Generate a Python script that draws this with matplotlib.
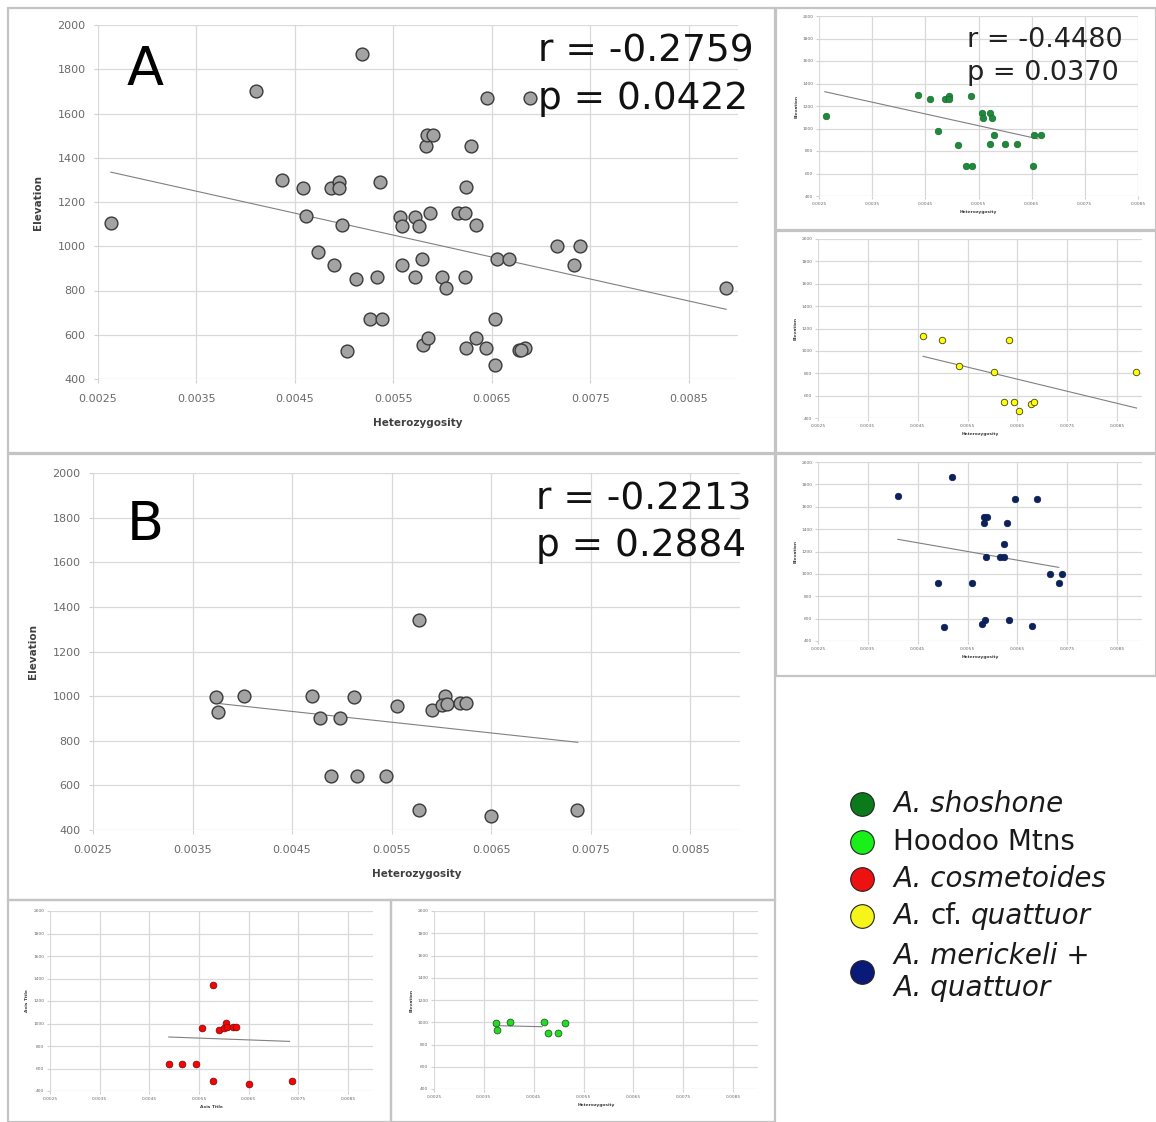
import matplotlib.pyplot as plt
import numpy as np
from matplotlib.patches import Rectangle
from matplotlib.offsetbox import TextArea, HPacker, AnnotationBbox

W, H = 1156, 1122

# heterozygosity / elevation per group
shoshone_x = [0.00263, 0.00437, 0.00458, 0.00487, 0.00495, 0.00495, 0.00536,
              0.00473, 0.00512, 0.00526, 0.00538, 0.00557, 0.00559, 0.00572,
              0.00576, 0.00579, 0.00572, 0.00599, 0.00623, 0.00655, 0.00667,
              0.00653]
shoshone_y = [1107, 1300, 1262, 1265, 1290, 1262, 1290,
              975, 854, 670, 670, 1134, 1092, 1134,
              1092, 941, 863, 863, 863, 941, 941,
              670]

cfquat_x = [0.00461, 0.00498, 0.00533, 0.00603, 0.00634, 0.00624, 0.00644,
            0.00653, 0.00678, 0.00684, 0.00888]
cfquat_y = [1137, 1095, 863, 810, 1096, 539, 539,
            464, 529, 539, 810]

merickeli_x = [0.00410, 0.00518, 0.00645, 0.00689, 0.00583, 0.00584, 0.00590,
               0.00629, 0.00624, 0.00587, 0.00616, 0.00623, 0.00716, 0.00740,
               0.00733, 0.00490, 0.00559, 0.00503, 0.00580, 0.00585, 0.00634,
               0.00680]
merickeli_y = [1700, 1868, 1670, 1670, 1455, 1505, 1505,
               1455, 1266, 1152, 1152, 1152, 1001, 1001,
               915, 915, 915, 528, 554, 584, 584,
               532]

cosmet_x = [0.00489, 0.00515, 0.00544, 0.00578, 0.00578, 0.00555, 0.00591,
            0.00604, 0.00601, 0.00606, 0.00619, 0.00625, 0.00650, 0.00736]
cosmet_y = [642, 642, 642, 1343, 488, 957, 938,
            1002, 960, 965, 968, 968, 463, 488]

hoodoo_x = [0.00374, 0.003755, 0.00402, 0.00470, 0.00478, 0.00498, 0.00512]
hoodoo_y = [996, 930, 1000, 1000, 901, 900, 996]

# trend lines as drawn in the source charts: (x start, x end), (y start, y end)
trend_A = ([0.00263, 0.00888], [1335, 715])
trend_B = ([0.00374, 0.00737], [968, 793])
trend_shoshone = ([0.00261, 0.00662], [1327, 908])
trend_cfquat = ([0.00461, 0.00889], [951, 489])
trend_merickeli = ([0.00410, 0.00733], [1309, 1058])
trend_cosmet = ([0.00489, 0.00732], [880, 841])
trend_hoodoo = ([0.00370, 0.00467], [970, 960])

stats_A = ("-0.2759", "0.0422")
stats_B = ("-0.2213", "0.2884")
stats_shoshone = ("-0.4480", "0.0370")

# legend entries: list of (text piece, italic?) per entry
legend_labels = [
    [("A. shoshone", True)],
    [("Hoodoo Mtns", False)],
    [("A. cosmetoides", True)],
    [("A.", True), ("cf.", False), ("quattuor", True)],
    [("A. merickeli +\nA. quattuor", True)],
]
legend_colors = ["#0b7a1b", "#19f019", "#ee1111", "#f5f51a", "#0a1a78"]

xticks = [0.0025, 0.0035, 0.0045, 0.0055, 0.0065, 0.0075, 0.0085]
yticks = [400, 600, 800, 1000, 1200, 1400, 1600, 1800, 2000]

fig = plt.figure(figsize=(W / 100, H / 100), dpi=100)


def px_axes(x0, y0, x1, y1):
    return fig.add_axes([x0 / W, 1 - y1 / H, (x1 - x0) / W, (y1 - y0) / H])


def frame(x0, y0, x1, y1):
    fig.add_artist(Rectangle((x0 / W, 1 - y1 / H), (x1 - x0) / W, (y1 - y0) / H,
                             transform=fig.transFigure, fill=False,
                             edgecolor="#c4c4c4", linewidth=1.6))


def panel(rect, xs, ys, trend, color, edge, s, xmax, tick_fs, lab_fs,
          xlabel="Heterozygosity", ylabel="Elevation", lw=0.8, big=False):
    ax = px_axes(*rect)
    ax.scatter(xs, ys, s=s, color=color, edgecolors=edge, linewidths=lw, zorder=3)
    ax.plot(trend[0], trend[1], color="#808080", linewidth=0.8, zorder=2)
    ax.set_xlim(0.0025, xmax)
    ax.set_ylim(400, 2000)
    ax.set_xticks(xticks)
    ax.set_xticklabels([f"{t:.4f}" for t in xticks])
    ax.set_yticks(yticks)
    ax.grid(True, color="#d9d9d9", linewidth=0.9)
    ax.set_axisbelow(True)
    for sp in ax.spines.values():
        sp.set_visible(False)
    if big:
        ax.tick_params(length=3, color="#d0d0d0", labelsize=tick_fs,
                       labelcolor="#6a6a6a")
        ax.tick_params(axis="x", pad=8)
        ax.tick_params(axis="y", pad=6)
        ax.set_xlabel(xlabel, fontsize=lab_fs, fontweight="bold",
                      color="#404040", labelpad=10)
        ax.set_ylabel(ylabel, fontsize=lab_fs, fontweight="bold",
                      color="#404040", labelpad=10)
    else:
        ax.tick_params(length=2, color="#d0d0d0", labelsize=tick_fs,
                       labelcolor="#6a6a6a", pad=2)
        ax.set_xlabel(xlabel, fontsize=lab_fs, fontweight="bold",
                      color="#404040", labelpad=3)
        ax.set_ylabel(ylabel, fontsize=lab_fs, fontweight="bold",
                      color="#404040", labelpad=3)
    return ax


def fig_text(x, y, s, **kw):
    fig.text(x / W, 1 - y / H, s, **kw)


# frames
frame(8, 8, 775, 453)
frame(776, 8, 1156, 230)
frame(776, 231, 1156, 453)
frame(776, 454, 1156, 676)
frame(8, 454, 775, 900)
frame(8, 900, 391, 1122)
frame(391, 900, 775, 1122)

gray = "#a3a3a3"
dark = "#3a3a3a"

# panel A: all three groups pooled
panel((98, 25, 738, 379),
      shoshone_x + cfquat_x + merickeli_x,
      shoshone_y + cfquat_y + merickeli_y, trend_A,
      gray, dark, 85, 0.009, 8, 7.5, lw=1.0, big=True)
fig_text(127, 85, "A", fontsize=39, color="black")
fig_text(538, 62, f"r = {stats_A[0]}", fontsize=27, color="#111111")
fig_text(538, 109, f"p = {stats_A[1]}", fontsize=27, color="#111111")

# panel B: cosmetoides + Hoodoo
panel((93, 473, 740, 830),
      cosmet_x + hoodoo_x, cosmet_y + hoodoo_y, trend_B,
      gray, dark, 85, 0.009, 8, 7.5, lw=1.0, big=True)
fig_text(127, 540, "B", fontsize=39, color="black")
fig_text(536, 510, f"r = {stats_B[0]}", fontsize=27, color="#111111")
fig_text(536, 556, f"p = {stats_B[1]}", fontsize=27, color="#111111")

# small panels
panel((819, 16, 1138, 196), shoshone_x, shoshone_y, trend_shoshone,
      "#1f8a3c", "#176b2c", 22, 0.0085, 3.2, 3.2, lw=0.5)
fig_text(967, 47, f"r = {stats_shoshone[0]}", fontsize=19.5, color="#222222")
fig_text(967, 80, f"p = {stats_shoshone[1]}", fontsize=19.5, color="#222222")

panel((818, 239, 1142, 418), cfquat_x, cfquat_y, trend_cfquat,
      "#ffff00", "#404020", 22, 0.009, 3.2, 3.2, lw=0.6)
panel((818, 462, 1142, 641), merickeli_x, merickeli_y, trend_merickeli,
      "#0b2260", "#0b1a4a", 22, 0.009, 3.2, 3.2, lw=0.5)
panel((50, 911, 373, 1091), cosmet_x, cosmet_y, trend_cosmet,
      "#ff0000", "#601010", 24, 0.009, 3.2, 3.2,
      xlabel="Axis Title", ylabel="Axis Title", lw=0.5)
panel((434, 911, 758, 1089), hoodoo_x, hoodoo_y, trend_hoodoo,
      "#22dd22", "#206020", 24, 0.009, 3.2, 3.2, lw=0.6)

# legend
leg_fs = 20
leg_y = [804, 842, 879, 916, 972]
for c, pieces, yy in zip(legend_colors, legend_labels, leg_y):
    fig.add_artist(plt.Line2D([862 / W], [1 - yy / H], marker="o",
                              markersize=17, color=c, markeredgecolor="#222222",
                              markeredgewidth=0.8, linestyle="none",
                              transform=fig.transFigure))
    areas = [TextArea(txt, textprops=dict(fontsize=leg_fs, color="#1a1a1a",
                                          style="italic" if it else "normal",
                                          linespacing=1.2))
             for txt, it in pieces]
    box = HPacker(children=areas, pad=0, sep=0.318 * leg_fs, align="baseline")
    ab = AnnotationBbox(box, (893 / W, 1 - yy / H), xycoords="figure fraction",
                        box_alignment=(0, 0.5), frameon=False, pad=0)
    fig.add_artist(ab)

fig.savefig("out.png", dpi=100)
